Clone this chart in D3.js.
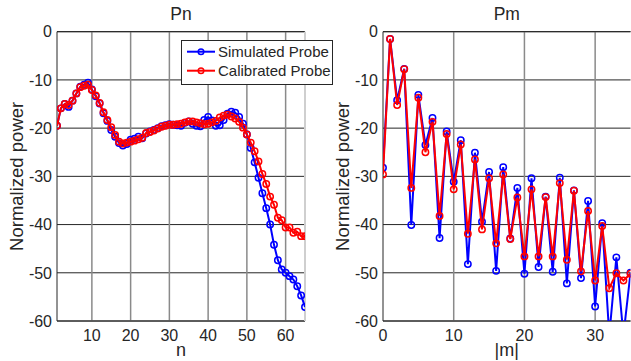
<!DOCTYPE html>
<html><head><meta charset="utf-8">
<script src="https://cdn.jsdelivr.net/npm/d3@7"></script>
<style>
body{margin:0;background:#fff}
svg{display:block}
text{font-family:"Liberation Sans",Arial,Helvetica,sans-serif;fill:#262626}
</style>
</head><body>
<svg id="chart" width="631" height="361"></svg>
<script>
// ---- data ----
const nCats = d3.range(1, 66);
const pnSimulated = [-19.5,-15.9,-15.0,-15.6,-14.3,-12.8,-11.4,-11.0,-10.6,-12.0,
  -13.4,-14.9,-16.9,-18.5,-20.4,-21.8,-23.1,-23.6,-23.3,-22.4,
  -22.2,-21.8,-22.1,-21.1,-20.7,-20.4,-20.0,-19.6,-19.4,-19.2,
  -19.3,-19.4,-19.5,-18.9,-18.6,-19.1,-19.5,-19.6,-18.3,-17.7,
  -18.4,-19.5,-19.4,-18.3,-17.0,-16.6,-16.8,-17.7,-19.1,-21.3,
  -24.1,-27.1,-30.3,-33.5,-36.6,-40.0,-44.2,-47.4,-49.3,-50.0,
  -50.7,-51.4,-52.8,-54.7,-57.1];
const pnCalibrated = [-19.5,-15.9,-15.0,-15.2,-14.3,-12.8,-11.5,-11.2,-11.0,-12.1,
  -13.2,-14.8,-16.7,-18.3,-19.8,-21.4,-22.8,-23.2,-23.0,-22.8,
  -22.6,-22.3,-22.0,-21.0,-20.8,-20.5,-20.1,-19.7,-19.5,-19.3,
  -19.3,-19.2,-19.1,-18.8,-18.6,-18.6,-18.8,-19.0,-19.2,-19.1,
  -18.8,-18.5,-17.8,-17.4,-17.2,-17.6,-18.0,-18.7,-19.9,-21.3,
  -23.0,-24.8,-26.9,-29.5,-31.6,-34.2,-35.9,-38.6,-39.1,-40.6,
  -40.6,-41.7,-41.5,-42.4,-42.4];
const mCats = d3.range(0, 36);
const pmSimulated = [-28.2,-1.5,-14.2,-7.7,-40.1,-13.1,-23.5,-17.9,-42.8,-20.7,
  -31.1,-22.5,-48.2,-25.1,-39.4,-29.1,-49.6,-28.1,-42.9,-32.4,
  -50.2,-30.4,-48.8,-34.2,-49.8,-30.3,-52.2,-32.9,-51.1,-35.1,
  -57.0,-39.7,-63.0,-46.8,-63.0,-50.0];
const pmCalibrated = [-29.6,-1.5,-15.2,-7.8,-32.4,-13.7,-25.0,-18.7,-38.2,-21.2,
  -32.7,-23.4,-41.9,-26.5,-41.0,-30.4,-43.9,-29.6,-43.0,-34.4,
  -46.6,-32.7,-46.6,-34.3,-46.6,-31.4,-47.3,-33.0,-49.7,-37.2,
  -51.6,-40.3,-53.2,-50.1,-51.6,-50.2];
const yTicks = [0,-10,-20,-30,-40,-50,-60];
const pnXTicks = [10,20,30,40,50,60];
const pmXTicks = [0,10,20,30];
const seriesNames = ["Simulated Probe","Calibrated Probe"];
const seriesColors = ["#0000ff","#ff0000"];

const svg = d3.select("#chart");
const plotTop = 31.7, plotBottom = 321;

function panel(id, x0, x1, xDomain, xTicks, cats, series, title, xLabel, yLabelX, rightEdge) {
  const x = d3.scaleLinear().domain(xDomain).range([x0, x1]);
  const y = d3.scaleLinear().domain([-60, 0]).range([plotBottom, plotTop]);
  const g = svg.append("g");
  g.append("clipPath").attr("id", id).append("rect")
    .attr("x", x0).attr("y", plotTop).attr("width", x1 - x0).attr("height", plotBottom - plotTop);
  g.append("g").selectAll("line").data(yTicks).join("line")
    .attr("x1", x0).attr("x2", x1).attr("y1", d => y(d)).attr("y2", d => y(d))
    .attr("stroke", "#262626").attr("stroke-width", 1);
  g.append("g").selectAll("line").data(xTicks.filter(d => d !== xDomain[0])).join("line")
    .attr("x1", d => x(d)).attr("x2", d => x(d)).attr("y1", plotTop).attr("y2", plotBottom)
    .attr("stroke", "#8a8a8a").attr("stroke-width", 1.5);
  g.append("line").attr("x1", x0).attr("x2", x1).attr("y1", plotTop).attr("y2", plotTop).attr("stroke", "#262626");
  g.append("line").attr("x1", x0).attr("x2", x1).attr("y1", plotBottom).attr("y2", plotBottom).attr("stroke", "#262626");
  g.append("line").attr("x1", x0).attr("x2", x0).attr("y1", plotTop).attr("y2", plotBottom).attr("stroke", "#262626");
  if (rightEdge) g.append("line").attr("x1", x1).attr("x2", x1).attr("y1", plotTop).attr("y2", plotBottom)
    .attr("stroke", "#cfcfcf").attr("stroke-width", 2);
  g.append("g").selectAll("text").data(yTicks).join("text")
    .attr("x", x0 - 5).attr("y", d => y(d)).attr("dy", "0.36em")
    .attr("text-anchor", "end").attr("font-size", 16).text(d => String(d));
  g.append("g").selectAll("text").data(xTicks).join("text")
    .attr("x", d => x(d)).attr("y", 341).attr("text-anchor", "middle")
    .attr("font-size", 16).text(d => d);
  g.append("text").attr("x", (x0 + x1) / 2).attr("y", 20).attr("text-anchor", "middle")
    .attr("font-size", 17.5).text(title);
  g.append("text").attr("x", (x0 + x1) / 2).attr("y", 356).attr("text-anchor", "middle")
    .attr("font-size", 18).text(xLabel);
  g.append("text").attr("transform", `translate(${yLabelX},${(plotTop + plotBottom) / 2}) rotate(-90)`)
    .attr("text-anchor", "middle").attr("font-size", 18.5).text("Normalized power");
  const plot = g.append("g").attr("clip-path", `url(#${id})`);
  series.forEach((vals, si) => {
    const pts = cats.map((c, i) => [c, vals[i]]);
    plot.append("path").datum(pts)
      .attr("d", d3.line().x(d => x(d[0])).y(d => y(d[1])))
      .attr("fill", "none").attr("stroke", seriesColors[si]).attr("stroke-width", 2);
    plot.append("g").selectAll("circle").data(pts).join("circle")
      .attr("cx", d => x(d[0])).attr("cy", d => y(d[1])).attr("r", 3.2)
      .attr("fill", "none").attr("stroke", seriesColors[si]).attr("stroke-width", 1.5);
  });
  return g;
}

panel("clipL", 57, 305, [1, 65], pnXTicks, nCats, [pnSimulated, pnCalibrated], "Pn", "n", 23, true);
panel("clipR", 383, 630.5, [0, 35], pmXTicks, mCats, [pmSimulated, pmCalibrated], "Pm", "|m|", 349, false);

const lg = svg.append("g");
lg.append("rect").attr("x", 181.5).attr("y", 40.5).attr("width", 151).attr("height", 44)
  .attr("fill", "#fff").attr("stroke", "#262626").attr("stroke-width", 1);
seriesNames.forEach((name, i) => {
  const yy = 51.7 + i * 19;
  lg.append("line").attr("x1", 187).attr("x2", 215).attr("y1", yy).attr("y2", yy)
    .attr("stroke", seriesColors[i]).attr("stroke-width", 2);
  lg.append("circle").attr("cx", 201).attr("cy", yy).attr("r", 2.8)
    .attr("fill", "none").attr("stroke", seriesColors[i]).attr("stroke-width", 1.5);
  lg.append("text").attr("x", 218).attr("y", yy).attr("dy", "0.36em")
    .attr("font-size", 15).text(name);
});
</script>
</body></html>
